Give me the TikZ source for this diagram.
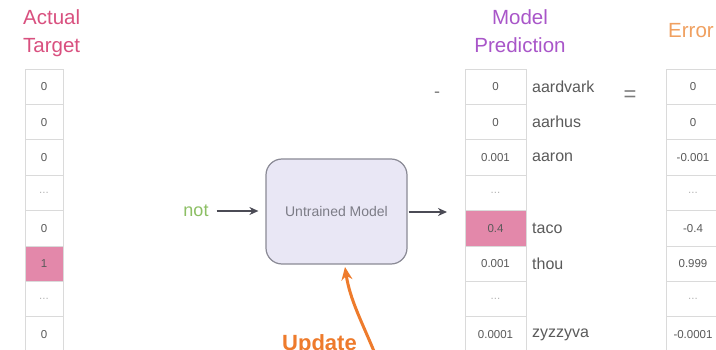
\documentclass[tikz,border=0pt]{standalone}
\usepackage{fontspec}
\setmainfont{Liberation Sans}
\usetikzlibrary{arrows.meta}
\definecolor{pinkT}{HTML}{D9507F}
\definecolor{purpleM}{HTML}{A956C9}
\definecolor{orangeE}{HTML}{F0A060}
\definecolor{greenN}{HTML}{8CBF64}
\definecolor{cellpink}{HTML}{E388AA}
\definecolor{celltext}{HTML}{5A5A5A}
\definecolor{cellline}{HTML}{DADADA}
\definecolor{darkarrow}{HTML}{4B4B55}
\definecolor{orangeA}{HTML}{EE7B2C}
\definecolor{boxfill}{HTML}{E9E7F5}
\definecolor{boxline}{HTML}{8A8A95}
\newcommand\celldots{...}
\begin{document}
\begin{tikzpicture}[x=1pt,y=-1pt,
  cell/.style={draw=cellline,line width=0.8pt,fill=white,inner sep=0pt,
    minimum height=35.4pt,text=celltext,font=\fontsize{11.5}{13}\selectfont},
  dotcell/.style={cell,text=celltext!45},
  hotcell/.style={cell,fill=cellpink},
  word/.style={anchor=west,inner sep=0pt,text=celltext,font=\fontsize{16}{18}\selectfont},
  title/.style={align=center,inner sep=0pt,font=\fontsize{20.5}{28.5}\selectfont},
  flow/.style={draw=darkarrow,line width=2.1pt,-{Stealth[length=9pt,width=8pt]}}]
\useasboundingbox (0,0) rectangle (716,350);
\clip (0,0) rectangle (716,350);
\fill[white] (0,0) rectangle (716,350);

% titles
\node[title,text=pinkT,align=left,anchor=north west] (tt) at (23,9) {Actual\\Target};
\node[title,text=purpleM,anchor=north] (pt) at (520,9) {Model\\Prediction};
\node[title,text=orangeE,anchor=north west] (et) at (668,23) {Error};

% actual target column
\foreach \i/\v/\s in {1/0/cell,2/0/cell,3/0/cell,4/\celldots/dotcell,5/0/cell,6/1/hotcell,7/\celldots/dotcell,8/0/cell}{
  \node[\s,minimum width=38pt] (t\i) at (44,{69+35.4*(\i-0.5)}) {\v};
}
% model prediction column
\foreach \i/\v/\s in {1/0/cell,2/0/cell,3/0.001/cell,4/\celldots/dotcell,5/0.4/hotcell,6/0.001/cell,7/\celldots/dotcell,8/0.0001/cell}{
  \node[\s,minimum width=61pt] (p\i) at (495.5,{69+35.4*(\i-0.5)}) {\v};
}
% error column
\foreach \i/\v/\s in {1/0/cell,2/0/cell,3/-0.001/cell,4/\celldots/dotcell,5/-0.4/cell,6/0.999/cell,7/\celldots/dotcell,8/-0.0001/cell}{
  \node[\s,minimum width=54pt] (e\i) at (693,{69+35.4*(\i-0.5)}) {\v};
}
% words
\node[word] (w1) at (532,{69+35.4*0.5}) {aardvark};
\node[word] (w2) at (532,{69+35.4*1.5}) {aarhus};
\node[word] (w3) at (532,{69+35.4*2.5}) {aaron};
\node[word] (w5) at (532,{69+35.4*4.5}) {taco};
\node[word] (w6) at (532,{69+35.4*5.5}) {thou};
\node[word] (w8) at (532,{69+35.4*7.5}) {zyzzyva};

% operators
\node[text=celltext!80,font=\fontsize{18}{20}\selectfont] (minus) at (437,95) {-};
\node[text=celltext!80,font=\fontsize{22}{24}\selectfont] (eq) at (630,96) {=};

% model
\node[draw=boxline,fill=boxfill,line width=1.2pt,rounded corners=16pt,
  minimum width=141pt,minimum height=105pt,text=boxline!90!black,
  font=\fontsize{14}{16}\selectfont] (model) at (336.5,211.5) {Untrained Model};
\node[text=greenN,inner sep=0pt,font=\fontsize{18}{20}\selectfont] (inp) at (196,211) {not};
\coordinate (outend) at (447,212);
\draw[flow,shorten <=8pt,shorten >=7pt] (inp.east) -- (model.west |- inp.east);
\draw[flow,shorten <=1pt] (model.east |- outend) -- (outend);

% update
\node[anchor=base west,inner sep=0pt,text=orangeA,font=\bfseries\fontsize{22}{24}\selectfont] (upd) at (282,351) {Update};
\coordinate (ustart) at (376,356);
\coordinate (uend) at (345,267);
\draw[draw=orangeA,line width=3pt,-{Stealth[length=13pt,width=11pt]}]
  (ustart) .. controls (362,322) and (350,300) .. (uend);
\end{tikzpicture}
\end{document}
